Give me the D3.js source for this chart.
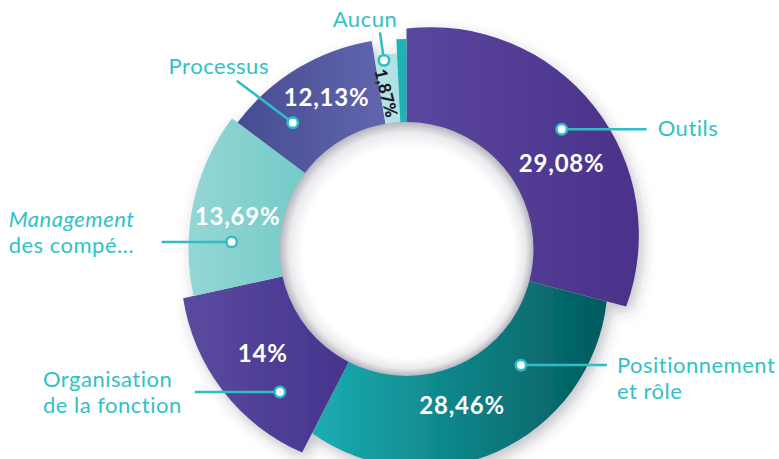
<!DOCTYPE html>
<html>
<head>
<meta charset="utf-8">
<script src="https://cdn.jsdelivr.net/npm/d3@7"></script>
<style>
  body { margin: 0; background: #fff; }
  svg { display: block; }
  .cat { font-family: Lato, sans-serif; font-size: 22px; fill: #31c1c6; letter-spacing: 0.5px; }
  .pct { font-family: Lato, sans-serif; font-weight: 700; font-size: 24px; fill: #fff; letter-spacing: 0.8px; }
</style>
</head>
<body>
<svg id="chart" width="779" height="459"></svg>
<script>
// share of answers, in percent (the last thin slice has no label on the chart)
const categories = ["Outils", "Positionnement et rôle", "Organisation de la fonction", "Management des compétences", "Processus", "Aucun", "Autre"];
const values = [29.08, 28.46, 14, 13.69, 12.13, 1.87, 0.77];
const labelLines = [["Outils"], ["Positionnement", "et rôle"], ["Organisation", "de la fonction"], ["Management", "des compé..."], ["Processus"], ["Aucun"], null];

const width = 779, height = 459;
const cx = 406.5, cy = 249, holeR = 127;

// outer radius, how far the outer rim is pulled out, and gradient colours
const sliceStyle = [
    {r: 208, pull: 28, turn: 8, c0: "#5a479e", c1: "#4a3189"},
    {r: 187, pull: 35, turn: 0, c0: "#1cadb2", c1: "#025a5d"},
    {r: 202, pull: 30, turn: 0, c0: "#5b4b9f", c1: "#3d2b87"},
    {r: 218, pull: 0, turn: 0, c0: "#95d6d5", c1: "#55c2bc"},
    {r: 211, pull: 0, turn: 0, c0: "#484c90", c1: "#6369b3"},
    {r: 196, pull: 0, turn: 0, c0: "#b8e4e6", c1: "#acdfe1"},
    {r: 210, pull: 0, turn: 0, c0: "#1ab3b7", c1: "#1ab3b7"}
];

// where dots / values / names sit (f = fraction of the slice angle)
const labelLayout = [
    {dotF: .50, dotR: 196, pctF: .585, pctR: 177, lead: [85, 0], anchor: "start", tx: 11, ty: 7},
    {dotF: .30, dotR: 163, pctF: .544, pctR: 166, lead: [86, 0], anchor: "start", tx: 10, ty: 7.5},
    {dotF: .285, dotR: 191, pctF: .531, pctR: 178, lead: [-85, 0], anchor: "start", tx: -152, ty: -5},
    {dotF: .30, dotR: 175, pctF: .476, pctR: 172, lead: [-70, 0], anchor: "start", tx: -153, ty: -15, italic: 0},
    {dotF: .256, dotR: 170, pctF: .58, pctR: 171, lead: [-56, -42], anchor: "middle", tx: -18, ty: -7},
    {dotF: .40, dotR: 190, pctF: .30, pctR: 157, lead: [-4, -28], anchor: "middle", tx: -15, ty: -5, rotate: 76, dark: true},
    null
];

const fmt = v => String(v).replace(".", ",") + "%";

function polar(a, r) {
    return [cx + r * Math.sin(a), cy - r * Math.cos(a)];
}

// wedge from the centre, rim = circle of radius s.r whose centre is moved by s.pull
function wedgePath(d, s) {
    let mid = (d.startAngle + d.endAngle) / 2 + s.turn * Math.PI / 180;
    let ox = cx + s.pull * Math.sin(mid), oy = cy - s.pull * Math.cos(mid);
    function hit(a) {
        let ux = Math.sin(a), uy = -Math.cos(a);
        let b = ux * (cx - ox) + uy * (cy - oy);
        let c = (cx - ox) ** 2 + (cy - oy) ** 2 - s.r * s.r;
        let t = -b + Math.sqrt(b * b - c);
        return [cx + t * ux, cy + t * uy];
    }
    let p0 = hit(d.startAngle), p1 = hit(d.endAngle);
    let f0 = Math.atan2(p0[1] - oy, p0[0] - ox);
    let f1 = Math.atan2(p1[1] - oy, p1[0] - ox);
    if (f1 < f0) f1 += 2 * Math.PI;
    let p = d3.path();
    p.moveTo(cx, cy);
    p.lineTo(p0[0], p0[1]);
    p.arc(ox, oy, s.r, f0, f1, false);
    p.closePath();
    return p.toString();
}

const svg = d3.select("#chart");
const defs = svg.append("defs");

let shadow = defs.append("filter").attr("id", "shadow")
    .attr("x", "-20%").attr("y", "-20%").attr("width", "140%").attr("height", "140%");
shadow.append("feDropShadow")
    .attr("dx", 4).attr("dy", 6).attr("stdDeviation", 7)
    .attr("flood-color", "#3a3a50").attr("flood-opacity", 0.3);

sliceStyle.forEach((s, i) => {
    let g = defs.append("linearGradient").attr("id", "grad" + i)
        .attr("x1", 0).attr("x2", 1).attr("y1", 0).attr("y2", 0);
    g.append("stop").attr("offset", 0).attr("stop-color", s.c0);
    g.append("stop").attr("offset", 1).attr("stop-color", s.c1);
});

let holeGrad = defs.append("radialGradient").attr("id", "holeGrad")
    .attr("cx", .5).attr("cy", .5).attr("r", .5).attr("fx", .55).attr("fy", .58);
holeGrad.append("stop").attr("offset", 0).attr("stop-color", "#fff");
holeGrad.append("stop").attr("offset", .83).attr("stop-color", "#fff");
holeGrad.append("stop").attr("offset", .93).attr("stop-color", "#ebebee");
holeGrad.append("stop").attr("offset", 1).attr("stop-color", "#b5b5be");

const pie = d3.pie().sort(null).value(d => d)(values);

svg.append("g").attr("filter", "url(#shadow)")
    .selectAll("path")
    .data(pie)
    .join("path")
    .attr("d", (d, i) => wedgePath(d, sliceStyle[i]))
    .attr("fill", (d, i) => "url(#grad" + i + ")");

svg.append("circle")
    .attr("cx", cx).attr("cy", cy).attr("r", holeR)
    .attr("fill", "url(#holeGrad)");

// value labels
const pctG = svg.append("g");
pie.forEach((d, i) => {
    let L = labelLayout[i];
    if (!L) return;
    let a = d.startAngle + L.pctF * (d.endAngle - d.startAngle);
    let [x, y] = polar(a, L.pctR);
    let t = pctG.append("text").attr("class", "pct")
        .attr("text-anchor", "middle")
        .attr("dy", "0.35em")
        .text(fmt(values[i]));
    if (L.rotate) {
        t.attr("transform", `translate(${x},${y}) rotate(${L.rotate})`)
            .style("font-size", "17px").style("font-weight", 900)
            .style("fill", "#1b1b28").style("letter-spacing", "0.4px");
    } else {
        t.attr("x", x).attr("y", y);
    }
});

// leader lines, dots and names
const labG = svg.append("g");
pie.forEach((d, i) => {
    let L = labelLayout[i];
    if (!L || !labelLines[i]) return;
    let a = d.startAngle + L.dotF * (d.endAngle - d.startAngle);
    let [x, y] = polar(a, L.dotR);
    let ex = x + L.lead[0], ey = y + L.lead[1];
    labG.append("line")
        .attr("x1", x).attr("y1", y).attr("x2", ex).attr("y2", ey)
        .attr("stroke", "#2fbec4").attr("stroke-width", 2.5);
    labG.append("circle")
        .attr("cx", x).attr("cy", y).attr("r", 5.2)
        .attr("fill", "#fff").attr("stroke", "#2fbec4").attr("stroke-width", 2.5);

    let txt = labG.append("text").attr("class", "cat")
        .attr("text-anchor", L.anchor)
        .attr("transform", `translate(${ex + L.tx},${ey + L.ty})`);
    labelLines[i].forEach((line, k) => {
        let ts = txt.append("tspan").attr("x", 0).attr("dy", k === 0 ? 0 : 26).text(line);
        if (L.italic === k) ts.style("font-style", "italic");
    });
});
</script>
</body>
</html>
